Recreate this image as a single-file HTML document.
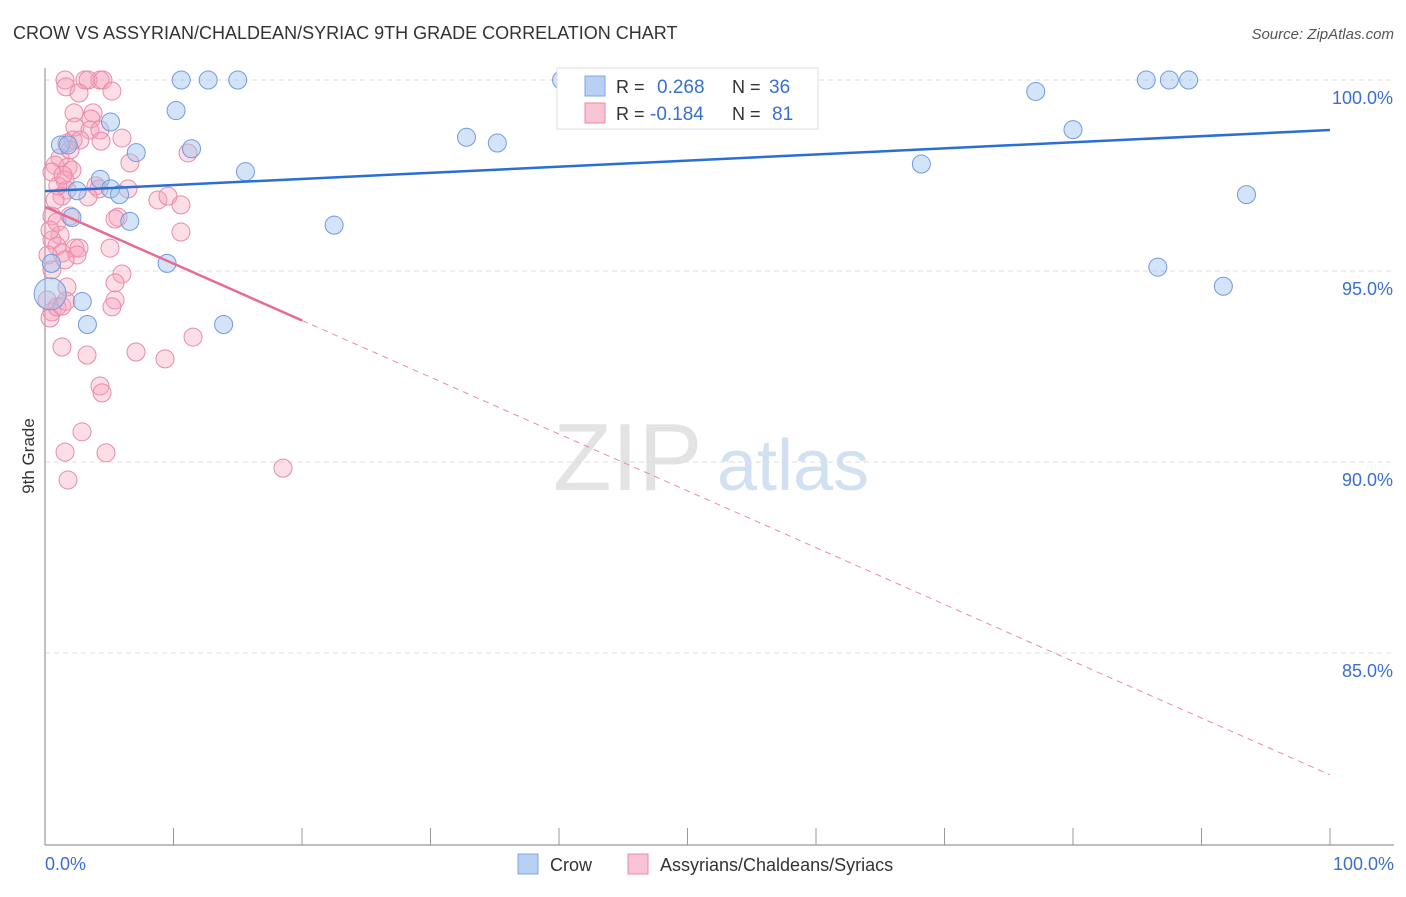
<!DOCTYPE html>
<html><head><meta charset="utf-8">
<style>
body{margin:0;background:#fff;font-family:"Liberation Sans",sans-serif;}
svg text{font-family:"Liberation Sans",sans-serif;}
</style></head>
<body>
<svg id="chart" width="1406" height="892" xmlns="http://www.w3.org/2000/svg">
<text x="13" y="39" font-size="18" fill="#333">CROW VS ASSYRIAN/CHALDEAN/SYRIAC 9TH GRADE CORRELATION CHART</text>
<text x="1394" y="39" font-size="15" fill="#555" text-anchor="end" font-style="italic">Source: ZipAtlas.com</text>
<g>
<text x="553" y="490" font-size="96" fill="#ddd" font-family="Liberation Serif" opacity="0.8">ZIP</text>
<text x="717" y="490" font-size="72" fill="#c8daf0" opacity="0.8">atlas</text>
</g>
<g id="grid"></g>
<g id="yticks"></g>
<g id="xticks"></g>
<line x1="45" y1="68" x2="45" y2="845" stroke="#999" stroke-width="1.2"/>
<line x1="45" y1="845" x2="1394" y2="845" stroke="#999" stroke-width="1.2"/>
<text transform="translate(34,456) rotate(-90)" font-size="17" fill="#333" text-anchor="middle">9th Grade</text>
<text x="45" y="870" font-size="18" fill="#3a6fd0">0.0%</text>
<text x="1394" y="870" font-size="18" fill="#3a6fd0" text-anchor="end">100.0%</text>
<g id="pink"></g>
<g id="blue"></g>
<g id="trends"></g>
<g>
<rect x="557" y="68" width="261" height="61" fill="#fff" stroke="#ddd"/>
<rect x="585" y="76" width="20" height="20" fill="#b8d0f4" stroke="#7fa6e0"/>
<text x="616" y="93" font-size="18" fill="#333">R = </text><text x="657" y="93" font-size="19" fill="#3a6fd0">0.268</text>
<text x="732" y="93" font-size="18" fill="#333">N = </text><text x="769" y="93" font-size="19" fill="#3a6fd0">36</text>
<rect x="585" y="103" width="20" height="20" fill="#f8c4d3" stroke="#e88aa8"/>
<text x="616" y="120" font-size="18" fill="#333">R = </text><text x="650" y="120" font-size="19" fill="#3a6fd0">-0.184</text>
<text x="732" y="120" font-size="18" fill="#333">N = </text><text x="772" y="120" font-size="19" fill="#3a6fd0">81</text>
</g>
<g>
<rect x="518" y="854" width="20" height="20" fill="#b8d0f4" stroke="#7fa6e0"/>
<text x="550" y="871" font-size="18" fill="#333">Crow</text>
<rect x="628" y="854" width="20" height="20" fill="#f8c4d3" stroke="#e88aa8"/>
<text x="660" y="871" font-size="18" fill="#333">Assyrians/Chaldeans/Syriacs</text>
</g>
</svg>
<script>
const yTickValues=[100,95,90,85];
const yTickLabels=["100.0%","95.0%","90.0%","85.0%"];
const xTickValues=[0,10,20,30,40,50,60,70,80,90,100];
const crowX=[40.2,56.4,10.6,12.7,15.0,85.7,87.5,89.0,77.1,10.2,5.1,80.0,32.8,35.2,11.4,7.1,1.2,1.8,68.2,15.6,4.3,2.5,5.1,5.8,93.5,2.1,6.6,22.5,9.5,86.6,91.7,0.5,2.9,3.3,13.9,0.4];
const crowY=[100,100,100,100,100,100,100,100,99.7,99.2,98.9,98.7,98.5,98.35,98.2,98.1,98.3,98.3,97.8,97.6,97.4,97.1,97.15,97.0,97.0,96.4,96.3,96.2,95.2,95.1,94.6,95.2,94.2,93.6,93.6,94.4];
const asX=[1.56,3.11,4.28,3.35,4.51,1.63,2.65,5.21,2.26,3.74,2.33,3.58,3.5,4.28,5.99,4.36,1.71,2.18,2.72,1.17,0.78,1.79,2.1,6.61,11.13,0.54,1.56,1.71,3.97,4.2,6.46,1.32,3.35,8.79,9.57,10.58,0.54,0.93,1.95,5.68,5.45,1.17,0.54,0.93,1.32,2.33,2.65,2.49,5.06,1.56,10.58,0.54,5.99,5.45,1.71,5.45,5.21,0.54,0.39,0.93,1.32,1.63,1.32,3.27,7.08,9.34,11.52,4.28,4.44,2.88,1.56,4.75,1.79,18.52,0.16,0.23,0.39,0.78,1.0,1.4,1.95];
const asY=[100,100,100,100,100,99.82,99.66,99.71,99.14,99.14,98.77,98.98,98.69,98.69,98.48,98.4,98.35,98.43,98.43,97.96,97.77,97.72,97.64,97.83,98.09,97.59,97.38,97.12,97.23,97.15,97.15,96.96,96.94,96.86,96.96,96.73,96.44,96.28,96.44,96.41,96.36,95.94,95.81,95.65,95.47,95.6,95.6,95.42,95.6,95.29,96.02,95.03,94.92,94.69,94.58,94.24,94.06,93.93,93.77,94.06,94.08,94.21,93.01,92.8,92.88,92.7,93.27,91.99,91.81,90.79,90.26,90.24,89.53,89.84,94.24,95.42,96.07,96.86,97.23,97.51,98.17];
const crowTrend=[97.09,98.69];
const asTrend=[96.68,81.81];
const asSolidEnd=20;
const NS="http://www.w3.org/2000/svg";
const X=p=>45+p*12.85;
const Y=v=>80+(100-v)*38.2;
function mk(tag,attrs,parent){const e=document.createElementNS(NS,tag);for(const k in attrs)e.setAttribute(k,attrs[k]);parent.appendChild(e);return e;}
const grid=document.getElementById('grid'),yt=document.getElementById('yticks'),xt=document.getElementById('xticks');
yTickValues.forEach((v,i)=>{
 const l=mk('line',{x1:45,x2:1394,y1:Y(v),y2:Y(v),stroke:'#ddd','stroke-dasharray':'5,4'},grid);
 
 
 const t=mk('text',{x:1393,y:Y(v)+24,'font-size':18,fill:'#3a6fd0','text-anchor':'end'},yt);
 t.textContent=yTickLabels[i];
 
 
});
xTickValues.forEach(v=>{
 const l=mk('line',{x1:X(v),x2:X(v),y1:828,y2:845,stroke:'#999'},xt);
 
 
});
const pink=document.getElementById('pink'),blue=document.getElementById('blue'),tr=document.getElementById('trends');
asX.forEach((x,i)=>{
 const c=mk('circle',{cx:X(x),cy:Y(asY[i]),r:9,fill:'rgba(245,160,185,0.35)',stroke:'#e88aa8','stroke-width':1},pink);
 
 
});
crowX.forEach((x,i)=>{
 const big=i===crowX.length-1;
 const c=mk('circle',{cx:X(x),cy:Y(crowY[i]),r:big?16:9,fill:'rgba(160,195,240,0.45)',stroke:'#6f9ae0','stroke-width':1},blue);
 
 
});
const bl=mk('line',{x1:X(0),y1:Y(crowTrend[0]),x2:X(100),y2:Y(crowTrend[1]),stroke:'#2a6fd6','stroke-width':2.5},tr);


const ay=p=>asTrend[0]+(asTrend[1]-asTrend[0])*p/100;
const ps=mk('line',{x1:X(0),y1:Y(ay(0)),x2:X(asSolidEnd),y2:Y(ay(asSolidEnd)),stroke:'#e86a96','stroke-width':2.5},tr);


const pd=mk('line',{x1:X(asSolidEnd),y1:Y(ay(asSolidEnd)),x2:X(100),y2:Y(ay(100)),stroke:'#e88aa8','stroke-width':1,'stroke-dasharray':'6,5'},tr);


</script>
</body></html>
